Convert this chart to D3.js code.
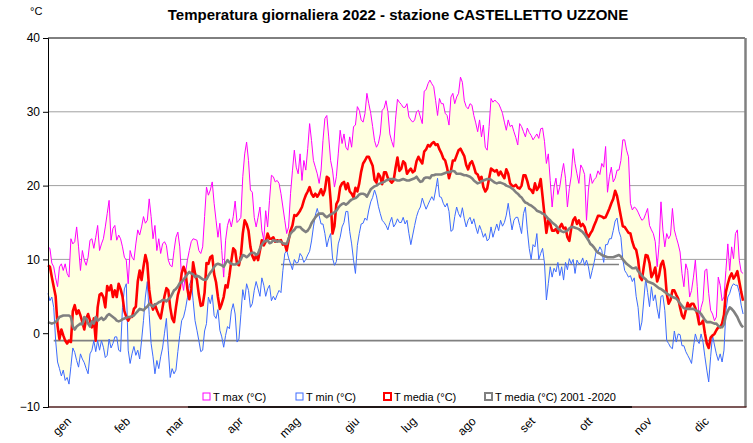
<!DOCTYPE html>
<html>
<head>
<meta charset="utf-8">
<script src="https://cdn.jsdelivr.net/npm/d3@7"></script>
<style>
  html, body { margin: 0; padding: 0; background: #ffffff; }
  svg { display: block; font-family: "Liberation Sans", Arial, sans-serif; }
</style>
</head>
<body>
<svg id="chart" width="753" height="443"></svg>
<script>
// Daily temperatures 2022, station Castelletto Uzzone (°C), one value per day from 1 Jan.
const tmax = [
  11.7,11.5,9.5,9.0,7.5,6.3,9.0,9.4,8.5,9.4, 8.1,7.6,12.8,12.1,12.4,14.4,11.7,8.5,11.2,9.9,
  9.2,10.3,12.6,12.8,11.5,13.0,14.6,11.2,12.1,12.8, 14.4,16.2,18.0,12.6,14.2,14.6,12.6,13.3,12.8,11.7,
  10.3,9.9,6.7,11.2,10.3,9.9,12.1,14.0,13.3,14.4, 15.8,14.9,15.3,18.2,15.8,12.8,14.6,11.2,12.8,10.8,
  12.1,12.4,11.9,9.9,9.2,9.0,11.2,13.0,13.7,11.7, 7.4,5.8,8.1,9.9,11.2,12.4,12.8,12.7,12.6,11.2,
  10.8,11.7,15.8,19.8,18.7,19.4,20.5,17.6,15.3,13.0, 14.9,11.2,7.6,12.6,14.6,15.5,14.4,15.8,17.9,15.0,
  15.3,15.7,21.2,24.3,25.9,23.4,19.4,19.1,15.7,14.4, 15.7,17.1,13.9,12.6,16.6,14.4,18.0,21.4,21.2,20.5,
  20.7,20.3,18.9,17.1,15.3,13.5,14.4,18.9,22.0,24.8, 22.5,21.6,24.3,20.7,23.4,22.1,25.0,28.4,26.1,23.4,
  22.5,21.6,20.3,22.1,26.1,29.1,29.5,26.6,23.4,22.1, 19.8,21.2,24.3,27.5,25.7,27.0,25.2,24.8,26.6,25.2,
  28.0,28.2,30.7,30.2,28.9,28.6,29.8,32.5,31.1,29.8, 28.0,26.1,25.2,25.7,27.0,30.2,30.5,31.5,30.0,27.0,
  26.0,25.2,29.0,31.7,31.3,31.0,30.6,30.6,31.1,29.3, 28.9,28.6,28.9,30.0,30.2,29.3,28.4,32.8,33.0,33.8,
  34.3,33.8,33.4,31.5,29.5,31.8,31.1,31.1,29.8,29.5, 28.2,32.0,32.5,31.1,32.0,32.5,34.7,34.0,31.5,30.7,
  30.4,31.1,30.9,29.5,28.5,27.3,28.9,26.6,28.2,25.2, 24.8,28.0,31.8,31.3,31.6,31.3,31.1,30.5,29.8,28.6,
  27.5,28.9,28.0,28.2,27.3,26.5,25.5,28.4,28.0,27.3, 26.6,27.8,27.2,26.8,26.2,26.6,27.0,26.4,27.7,27.8,
  26.0,23.0,24.3,20.7,17.1,19.8,21.0,18.8,19.8,21.6, 23.0,21.0,17.1,19.6,21.3,25.0,23.0,21.6,20.3,22.8,
  22.3,21.5,15.3,19.4,21.6,20.3,20.8,21.1,22.0,21.5, 23.0,22.5,25.3,19.1,21.2,22.5,20.5,21.0,22.1,22.1,
  23.4,26.2,26.2,24.8,23.9,17.6,16.7,17.1,16.9,16.4, 15.8,15.3,15.5,16.2,16.9,14.6,14.0,13.5,12.4,9.0,
  12.0,17.8,14.0,11.7,13.5,12.8,13.3,16.9,14.0,13.0, 12.1,11.0,8.1,6.3,9.4,8.5,4.9,5.8,7.6,9.9,
  6.3,1.7,3.5,4.4,8.5,8.7,5.4,3.1,2.6,1.7, 2.2,7.6,6.5,4.4,4.9,8.5,12.1,8.5,11.7,10.1,
  13.5,14.0,9.9,8.3,8.1
];
const tmin = [
  5.4,4.4,4.9,3.5,-1.0,-3.9,-4.8,-5.8,-5.0,-6.4, -6.0,-6.9,-4.5,-2.0,-2.6,-3.7,-4.6,-2.8,-3.5,-4.0,
  -4.8,-5.5,-2.8,-2.3,-1.0,-2.5,-1.0,-2.3,-1.0,-1.9, -3.3,-3.0,-0.8,-2.0,-1.4,-0.5,-0.5,-2.3,-2.5,3.5,
  6.0,6.7,-2.3,-4.1,-2.8,-1.8,-3.0,-2.3,-3.5,-1.0, 1.7,4.9,7.0,2.5,-1.4,-3.2,-5.5,-3.7,-4.8,-3.2,
  -2.0,0.0,2.0,-2.3,-6.0,-4.8,-5.5,-5.0,-2.5,-0.3, 1.7,2.2,3.3,4.8,6.5,7.2,4.4,1.7,0.4,-1.0,
  -2.5,-2.3,0.3,1.3,4.9,4.0,5.2,2.4,2.0,3.2, 0.4,-0.5,-1.9,-0.3,0.9,0.6,3.0,4.0,2.6,-1.2,
  -0.8,2.5,5.9,4.5,6.7,5.8,3.5,4.0,5.8,7.0, 6.0,5.0,7.5,6.5,5.0,6.0,6.5,4.4,5.0,4.5,
  5.2,5.8,5.5,8.5,10.8,11.2,10.2,9.4,8.6,10.0, 9.5,9.6,10.8,10.4,9.6,10.0,10.6,11.1,12.5,14.4,
  16.0,16.9,15.9,14.8,14.8,13.5,11.7,12.8,13.5,10.2, 9.2,9.7,12.1,13.0,14.4,15.0,16.5,16.5,13.8,12.1,
  9.9,8.1,11.9,13.5,14.8,14.9,15.6,15.3,16.7,17.8, 18.4,19.4,18.6,17.2,16.2,15.3,15.0,14.6,14.0,15.0,
  15.7,14.4,14.8,15.5,15.0,15.0,15.7,14.8,15.3,13.5, 12.0,13.3,14.6,15.8,16.6,17.1,18.3,17.5,16.8,17.4,
  18.0,18.5,18.0,19.4,21.0,18.5,18.4,17.6,17.1,17.6, 16.5,13.8,14.0,15.8,17.1,16.2,15.7,17.0,15.5,14.4,
  15.3,15.7,14.8,15.5,14.4,13.5,14.6,13.9,13.0,13.5, 12.5,12.8,14.4,13.0,13.9,14.8,13.9,15.3,14.5,15.0,
  16.0,17.6,15.7,14.0,15.3,15.7,15.7,14.6,13.5,16.2, 17.1,14.0,11.5,10.0,12.0,11.7,13.5,10.0,10.8,11.5,
  9.5,4.5,6.7,9.0,7.6,8.8,8.3,9.6,7.8,9.0, 7.2,9.6,8.6,10.1,9.4,10.0,8.1,9.9,9.4,9.5,
  10.2,9.2,9.9,9.0,7.4,8.5,9.6,11.0,11.0,11.7, 11.2,9.6,12.0,12.0,12.8,12.8,13.9,15.2,15.6,13.8,
  13.0,10.0,8.5,8.1,7.6,7.8,7.0,7.5,5.0,3.5, 0.4,1.5,4.5,7.4,5.5,3.6,6.3,4.4,5.2,3.3,
  2.0,5.0,5.1,3.1,-1.0,-1.4,-1.9,-2.1,0.3,-1.2, -0.1,-0.2,-1.7,-1.7,-2.5,-3.0,-3.5,-4.1,-1.9,-0.1,
  -1.0,-1.4,-0.1,-1.2,-3.2,-5.0,-6.6,-3.2,-0.3,-1.6, -2.8,-3.7,-2.8,-3.9,-2.3,3.0,4.9,5.4,6.3,6.7,
  6.5,6.5,5.5,3.8,2.6
];
const tmedia = [
  9.2,9.0,7.6,6.3,5.0,1.0,-0.8,0.5,-0.3,-1.0, -1.4,-1.0,-1.2,3.0,3.8,2.6,3.1,2.4,1.5,0.5,
  2.0,2.6,1.7,0.8,2.0,-1.0,3.5,5.2,5.4,4.9, 3.5,6.4,5.8,6.5,4.9,5.8,4.9,6.7,6.0,5.0,
  3.0,2.2,1.7,2.2,2.2,3.3,3.6,7.0,8.5,7.2, 9.0,10.6,9.5,5.9,4.0,3.2,3.9,3.1,2.5,2.0,
  3.5,5.0,6.1,5.8,3.5,2.0,1.5,3.5,5.2,6.1, 8.1,9.0,8.3,6.0,4.6,6.0,9.6,8.1,7.2,5.2,
  3.7,3.8,5.5,9.5,9.4,10.3,10.5,8.0,6.9,4.9, 3.3,4.0,4.9,6.5,6.2,7.8,9.8,11.5,11.2,9.4,
  9.2,10.5,13.5,15.3,14.8,13.9,11.7,10.5,9.9,10.6, 9.9,11.2,12.6,11.9,12.4,13.5,12.8,12.8,13.0,12.4,
  12.6,12.5,12.6,12.0,12.1,11.2,12.6,13.9,14.6,16.0, 15.9,16.2,16.6,17.1,18.0,18.7,19.2,19.8,18.9,18.5,
  18.9,18.5,18.9,19.5,18.7,19.4,21.2,21.0,18.0,13.5, 14.5,17.5,18.0,19.8,20.3,20.5,19.5,20.3,19.2,18.9,
  18.4,19.7,19.2,20.3,21.9,23.0,23.4,23.9,23.9,23.3, 22.7,20.8,20.4,21.6,21.2,20.2,21.8,21.8,21.0,20.7,
  20.4,20.7,22.4,23.8,22.0,22.3,23.3,23.0,21.6,22.0, 22.3,21.8,22.0,23.3,23.9,23.4,23.0,24.6,24.9,25.5,
  25.3,25.7,25.9,25.5,25.6,24.9,24.4,23.7,23.4,22.4, 21.0,22.0,23.4,23.4,24.1,24.8,25.0,24.5,24.0,22.8,
  22.2,23.0,23.3,22.6,21.7,21.5,20.8,21.2,19.8,19.2, 19.6,21.0,22.3,22.1,21.9,22.1,21.4,21.9,21.4,21.0,
  22.2,21.6,20.3,20.0,19.9,20.1,19.7,19.6,20.0,21.4, 21.4,20.6,19.6,19.4,19.0,20.3,19.4,19.8,20.9,18.5,
  16.0,13.6,15.3,14.8,13.9,13.9,14.1,13.6,14.4,14.8, 14.2,14.3,13.0,12.5,14.2,15.3,15.7,14.8,15.3,14.5,
  14.8,14.4,13.5,13.0,13.5,13.9,14.6,15.2,15.9,15.9, 15.8,15.6,15.7,16.3,16.9,17.6,18.2,19.3,18.6,17.2,
  15.8,14.5,14.4,14.0,13.6,13.5,12.4,11.6,11.3,10.0, 7.6,7.2,9.0,10.6,10.5,9.5,7.6,8.1,8.9,7.0,
  7.8,9.3,9.8,8.6,5.4,4.0,4.5,5.8,5.8,5.2, 4.7,3.5,2.4,2.0,3.1,4.1,3.5,4.0,4.0,3.4,
  2.6,1.2,1.3,1.7,0.0,-1.4,-2.0,-0.6,-0.3,-0.1, 0.4,0.8,0.8,1.3,2.5,5.6,6.7,7.6,8.1,7.4,
  7.8,8.4,7.0,5.6,4.4
];
const tmedia2001_2020 = [
  1.5,1.4,1.3,1.4,1.5,1.8,2.2,2.3,2.4,2.4, 2.4,2.4,2.2,0.9,0.5,0.9,1.1,1.3,1.2,2.2,
  2.0,1.3,0.9,1.6,1.3,2.2,1.7,1.9,2.1,1.8, 2.0,2.4,2.6,2.4,2.2,2.0,1.7,1.6,1.7,1.9,
  2.0,2.1,2.2,2.2,2.3,2.4,2.7,3.0,3.3,3.2, 3.1,3.4,3.6,4.0,3.8,3.6,3.9,4.0,4.2,4.3,
  4.5,4.5,4.3,4.6,4.8,5.3,5.8,6.0,6.3,6.8, 6.9,7.3,7.6,8.0,8.3,8.1,8.0,7.6,7.8,7.7,
  7.5,7.3,7.2,7.3,7.8,8.2,8.5,9.0,9.3,9.4, 9.3,9.2,9.0,9.5,9.9,9.6,9.4,9.3,9.3,9.4,
  9.6,10.0,10.6,10.5,10.3,10.5,10.8,10.9,10.9,10.6, 10.8,11.5,12.0,12.4,12.5,12.6,12.2,12.3,12.6,12.5,
  12.4,12.5,12.4,12.2,12.1,12.1,12.8,13.5,13.8,14.0, 14.4,14.4,14.4,14.1,13.9,13.7,13.9,14.3,14.9,15.3,
  15.7,16.0,16.2,16.2,16.2,15.9,15.7,15.9,16.1,16.2, 16.4,16.6,17.0,17.3,17.5,17.6,17.4,17.6,17.9,18.1,
  18.2,18.3,18.5,18.8,18.9,18.9,18.8,18.5,19.0,19.5, 19.7,19.9,20.0,20.2,20.3,20.4,20.5,20.7,20.8,20.9,
  20.9,20.9,20.8,20.7,20.7,20.8,20.9,20.8,20.7,20.7, 20.8,20.9,21.0,21.2,20.8,20.5,20.6,21.0,21.1,21.1,
  21.0,21.4,21.4,21.5,21.5,21.5,21.5,21.6,21.7,21.8, 21.8,21.9,22.0,21.9,21.6,21.6,21.6,21.5,21.4,21.4,
  21.3,21.2,21.0,20.7,20.5,20.3,20.4,20.6,20.7,20.8, 20.9,20.9,20.8,20.6,20.4,20.3,20.4,20.4,20.3,20.2,
  20.0,19.9,19.8,19.6,19.4,19.1,18.9,18.6,18.4,18.0, 17.7,17.6,17.4,17.3,17.1,16.9,16.6,16.5,16.4,16.2,
  16.1,15.8,15.5,15.3,15.0,14.8,14.6,14.2,14.0,13.8, 13.7,13.8,13.9,14.2,14.4,14.4,14.3,14.2,14.1,13.9,
  13.7,13.4,13.0,12.6,12.1,11.9,11.6,11.2,10.9,10.8, 10.6,10.5,10.4,10.3,10.3,10.3,10.3,10.4,10.5,10.6,
  10.4,10.0,9.7,9.4,9.2,9.0,8.8,8.8,8.9,8.4, 8.1,7.8,7.5,7.3,7.0,6.9,6.8,6.7,6.5,6.3,
  6.1,6.0,5.8,5.6,5.4,5.2,5.1,4.9,4.8,4.7, 4.4,4.0,3.7,3.4,3.3,3.3,3.3,3.3,3.3,3.1,
  3.0,2.9,2.6,2.2,1.8,1.5,1.5,1.5,1.4,1.3, 1.3,1.0,0.8,0.8,1.2,2.4,3.0,3.5,3.3,3.0,
  2.6,2.2,1.6,1.1,0.8
];
const monthLabels = ["gen","feb","mar","apr","mag","giu","lug","ago","set","ott","nov","dic"];
const yTicks = [-10, 0, 10, 20, 30, 40];
const gridValues = [10, 20, 30];
// horizontal gray reference segments: level (°C) and first/last day index
const refLevels = [-1.0, 9.3];
const refStartDay = [3, 122];
const refEndDay = [364, 299];
const legendNames = ["T max (°C)", "T min (°C)", "T media (°C)", "T media (°C) 2001 -2020"];

const svg = d3.select("#chart");
const plotLeft = 48, plotRight = 745, plotTop = 38, plotBottom = 407;

const year0 = new Date(2022, 0, 1), year1 = new Date(2023, 0, 1);
const dates = d3.range(tmax.length).map(i => d3.timeDay.offset(year0, i));
const x = d3.scaleTime().domain([year0, year1]).range([plotLeft, plotRight]);
const y = d3.scaleLinear().domain([-10, 40]).range([plotBottom, plotTop]);

// title and unit
svg.append("text").attr("x", 398).attr("y", 20).attr("text-anchor", "middle")
  .attr("font-size", 15).attr("font-weight", "bold").attr("fill", "#000")
  .text("Temperatura giornaliera 2022 - stazione CASTELLETTO UZZONE");
svg.append("text").attr("x", 30).attr("y", 15).attr("font-size", 11).attr("fill", "#000").text("°C");

// horizontal gridlines
svg.append("g").selectAll("line").data(gridValues).join("line")
  .attr("x1", plotLeft).attr("x2", plotRight)
  .attr("y1", d => y(d)).attr("y2", d => y(d))
  .attr("stroke", "#a0a0a0").attr("stroke-width", 1);

// band between daily max and min
const idx = d3.range(tmax.length);
svg.append("path").datum(idx)
  .attr("d", d3.area().x(i => x(dates[i])).y0(i => y(tmin[i])).y1(i => y(tmax[i])))
  .attr("fill", "#ffffe0").attr("stroke", "none");

// gray reference segments
svg.append("g").selectAll("line").data(refLevels).join("line")
  .attr("x1", (d, i) => x(dates[refStartDay[i]])).attr("x2", (d, i) => x(dates[refEndDay[i]]))
  .attr("y1", d => y(d)).attr("y2", d => y(d))
  .attr("stroke", "#808080").attr("stroke-width", 1.6);

function drawLine(values, color, width) {
  svg.append("path").datum(idx)
    .attr("d", d3.line().x(i => x(dates[i])).y(i => y(values[i])))
    .attr("fill", "none").attr("stroke", color).attr("stroke-width", width)
    .attr("stroke-linejoin", "round");
}
drawLine(tmax, "#ff00ff", 1);
drawLine(tmin, "#3d6bff", 1);
drawLine(tmedia, "#ff0000", 2.6);
drawLine(tmedia2001_2020, "#808080", 2.6);

// legend panel at the bottom of the plot
const legColors = ["#ff00ff", "#3d6bff", "#ff0000", "#808080"];
const legWidths = [1, 1, 2, 2];
const legX = [203, 296, 384, 485];
svg.append("rect").attr("x", 188).attr("y", 381).attr("width", 444).attr("height", plotBottom - 381)
  .attr("fill", "#ffffff");
const leg = svg.append("g").selectAll("g").data(legendNames).join("g")
  .attr("transform", (d, i) => `translate(${legX[i]},393)`);
leg.append("rect").attr("width", 7).attr("height", 7).attr("fill", "#fff")
  .attr("stroke", (d, i) => legColors[i]).attr("stroke-width", (d, i) => legWidths[i]);
leg.append("text").attr("x", 10).attr("y", 8).attr("font-size", 11).attr("fill", "#000").text(d => d);

// frame: top border, right border, bottom axis
svg.append("line").attr("x1", plotLeft).attr("x2", plotRight).attr("y1", plotTop).attr("y2", plotTop)
  .attr("stroke", "#000").attr("stroke-width", 1);
svg.append("line").attr("x1", plotRight + 0.5).attr("x2", plotRight + 0.5).attr("y1", plotTop).attr("y2", plotBottom)
  .attr("stroke", "#808080").attr("stroke-width", 2.5);
svg.append("line").attr("x1", plotLeft).attr("x2", plotRight + 1.5).attr("y1", plotBottom).attr("y2", plotBottom)
  .attr("stroke", "#502020").attr("stroke-width", 1.3);
svg.append("line").attr("x1", 188).attr("x2", 632).attr("y1", plotBottom).attr("y2", plotBottom)
  .attr("stroke", "#000").attr("stroke-width", 1.3);

// y axis
const yAxis = svg.append("g").attr("transform", `translate(${plotLeft},0)`)
  .call(d3.axisLeft(y).tickValues(yTicks).tickSize(5).tickPadding(3).tickFormat(d3.format("d")));
yAxis.select(".domain").attr("stroke", "#000");
yAxis.selectAll("text").attr("font-size", 12).attr("font-family", "Liberation Sans, Arial, sans-serif").attr("fill", "#000");
yAxis.selectAll(".tick line").attr("stroke", "#000");

// month labels, rotated
const months = d3.timeMonths(year0, year1);
svg.append("g").selectAll("text").data(months).join("text")
  .attr("transform", m => `translate(${x(new Date(+m + 12.5 * 864e5))},422) rotate(-45)`)
  .attr("text-anchor", "end").attr("font-size", 12).attr("fill", "#000")
  .text((m, i) => monthLabels[i]);
</script>
</body>
</html>
